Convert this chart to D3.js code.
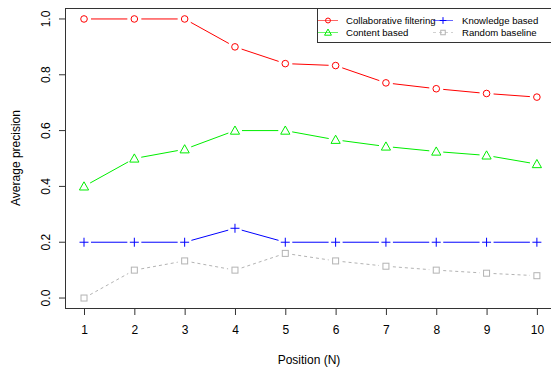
<!DOCTYPE html>
<html><head><meta charset="utf-8">
<script src="https://cdn.jsdelivr.net/npm/d3@7"></script>
<style>body{margin:0;background:#fff}svg{display:block;font-family:"Liberation Sans",Arial,sans-serif}</style>
</head><body><svg id="c" width="551" height="372"></svg>
<script>
const positions = [1,2,3,4,5,6,7,8,9,10];
const collaborative = [1.0,1.0,1.0,0.9,0.84,0.833,0.771,0.75,0.733,0.72];
const content = [0.4,0.5,0.533,0.6,0.6,0.567,0.543,0.525,0.511,0.48];
const knowledge = [0.2,0.2,0.2,0.25,0.2,0.2,0.2,0.2,0.2,0.2];
const randomBase = [0.0,0.1,0.133,0.1,0.16,0.133,0.114,0.1,0.089,0.08];
const yTicks = [0,0.2,0.4,0.6,0.8,1.0];
const seriesNames = ["Collaborative filtering","Content based","Knowledge based","Random baseline"];

const svg = d3.select("#c");
const x = d3.scaleLinear().domain([0.64,10.36]).range([65.9,555]);
const y = d3.scaleLinear().domain([-0.04,1.04]).range([309.2,7.8]);

const series = [
  {name:seriesNames[0], vals:collaborative, color:"#ff0000", sym:"circle", dash:null},
  {name:seriesNames[1], vals:content, color:"#00ee00", sym:"triangle", dash:null},
  {name:seriesNames[2], vals:knowledge, color:"#0000ff", sym:"plus", dash:null},
  {name:seriesNames[3], vals:randomBase, color:"#b3b3b3", sym:"square", dash:"3,3"}
];

function drawSym(g, sym, cx, cy, color, k){
  k = k || 1;
  if(sym==="circle") g.append("circle").attr("cx",cx).attr("cy",cy).attr("r",3.3*k).attr("fill","none").attr("stroke",color).attr("stroke-width",1);
  else if(sym==="triangle"){const s=4.6*k;g.append("path").attr("d",`M${cx},${cy-s}L${cx+s},${cy+s*0.78}L${cx-s},${cy+s*0.78}Z`).attr("fill","none").attr("stroke",color);}
  else if(sym==="plus"){const s=4.5*k;g.append("path").attr("d",`M${cx-s},${cy}H${cx+s}M${cx},${cy-s}V${cy+s}`).attr("stroke",color).attr("fill","none");}
  else if(sym==="square"){const s=3*k;g.append("rect").attr("x",cx-s).attr("y",cy-s).attr("width",2*s).attr("height",2*s).attr("fill","none").attr("stroke",color);}
}

const gap = 7;
series.forEach(s=>{
  const g = svg.append("g");
  for(let i=0;i<positions.length-1;i++){
    const x1=x(positions[i]), y1=y(s.vals[i]), x2=x(positions[i+1]), y2=y(s.vals[i+1]);
    const dx=x2-x1, dy=y2-y1, L=Math.hypot(dx,dy);
    if(L<=2*gap) continue;
    const ux=dx/L, uy=dy/L;
    g.append("line").attr("x1",x1+ux*gap).attr("y1",y1+uy*gap).attr("x2",x2-ux*gap).attr("y2",y2-uy*gap)
      .attr("stroke",s.color).attr("stroke-width",1).attr("stroke-dasharray",s.dash);
  }
  positions.forEach((p,i)=>drawSym(g,s.sym,x(p),y(s.vals[i]),s.color));
});

// box
svg.append("rect").attr("x",65.5).attr("y",8.5).attr("width",500).attr("height",300).attr("fill","none").attr("stroke","#333").attr("stroke-width",1);

// axes
const xAxis = d3.axisBottom(x).tickValues(positions).tickSize(6).tickPadding(10).tickFormat(d3.format("d"));
const xg = svg.append("g").attr("transform","translate(0,309)").call(xAxis);
xg.select(".domain").remove();
xg.selectAll("text").attr("font-size",12).attr("fill","#000").attr("font-family","Liberation Sans, Arial, sans-serif");
xg.selectAll("line").attr("stroke","#333");

const yAxis = d3.axisLeft(y).tickValues(yTicks).tickSize(6).tickFormat(d3.format(".1f"));
const yg = svg.append("g").attr("transform","translate(65,0)").call(yAxis);
yg.select(".domain").remove();
yg.selectAll("line").attr("stroke","#333");
yg.selectAll("text").attr("font-size",12).attr("fill","#000").attr("font-family","Liberation Sans, Arial, sans-serif")
  .attr("text-anchor","middle").attr("x",null).attr("dy",null)
  .attr("transform",d=>`translate(-19,${y(d)}) rotate(-90)`).attr("y",0).attr("dy","0.35em");
yg.selectAll(".tick").attr("transform",null);
yg.selectAll(".tick line").attr("y1",d=>y(d)).attr("y2",d=>y(d)).attr("x2",-6);

svg.append("text").attr("x",309).attr("y",364).attr("text-anchor","middle").attr("font-size",12).text("Position (N)");
svg.append("text").attr("transform","translate(20,158) rotate(-90)").attr("text-anchor","middle").attr("font-size",12).text("Average precision");

// legend
const lg = svg.append("g");
lg.append("rect").attr("x",317.5).attr("y",8.5).attr("width",260).attr("height",34).attr("fill","#fff").attr("stroke","#333");
const cols=[{lx:318,tx:346},{lx:433,tx:462}];
const rows=[20.5,32.5];
series.forEach((s,i)=>{
  const c=cols[Math.floor(i/2)], r=rows[i%2];
  lg.append("line").attr("x1",c.lx).attr("x2",c.lx+20).attr("y1",r).attr("y2",r).attr("stroke",s.color).attr("stroke-opacity",0.6).attr("stroke-dasharray",s.dash?"3,3":null);
  drawSym(lg, s.sym, c.lx+10, r, s.color, 0.75);
  lg.append("text").attr("x",c.tx).attr("y",r).attr("dy","0.35em").attr("font-size",9.6).text(s.name);
});
</script></body></html>
